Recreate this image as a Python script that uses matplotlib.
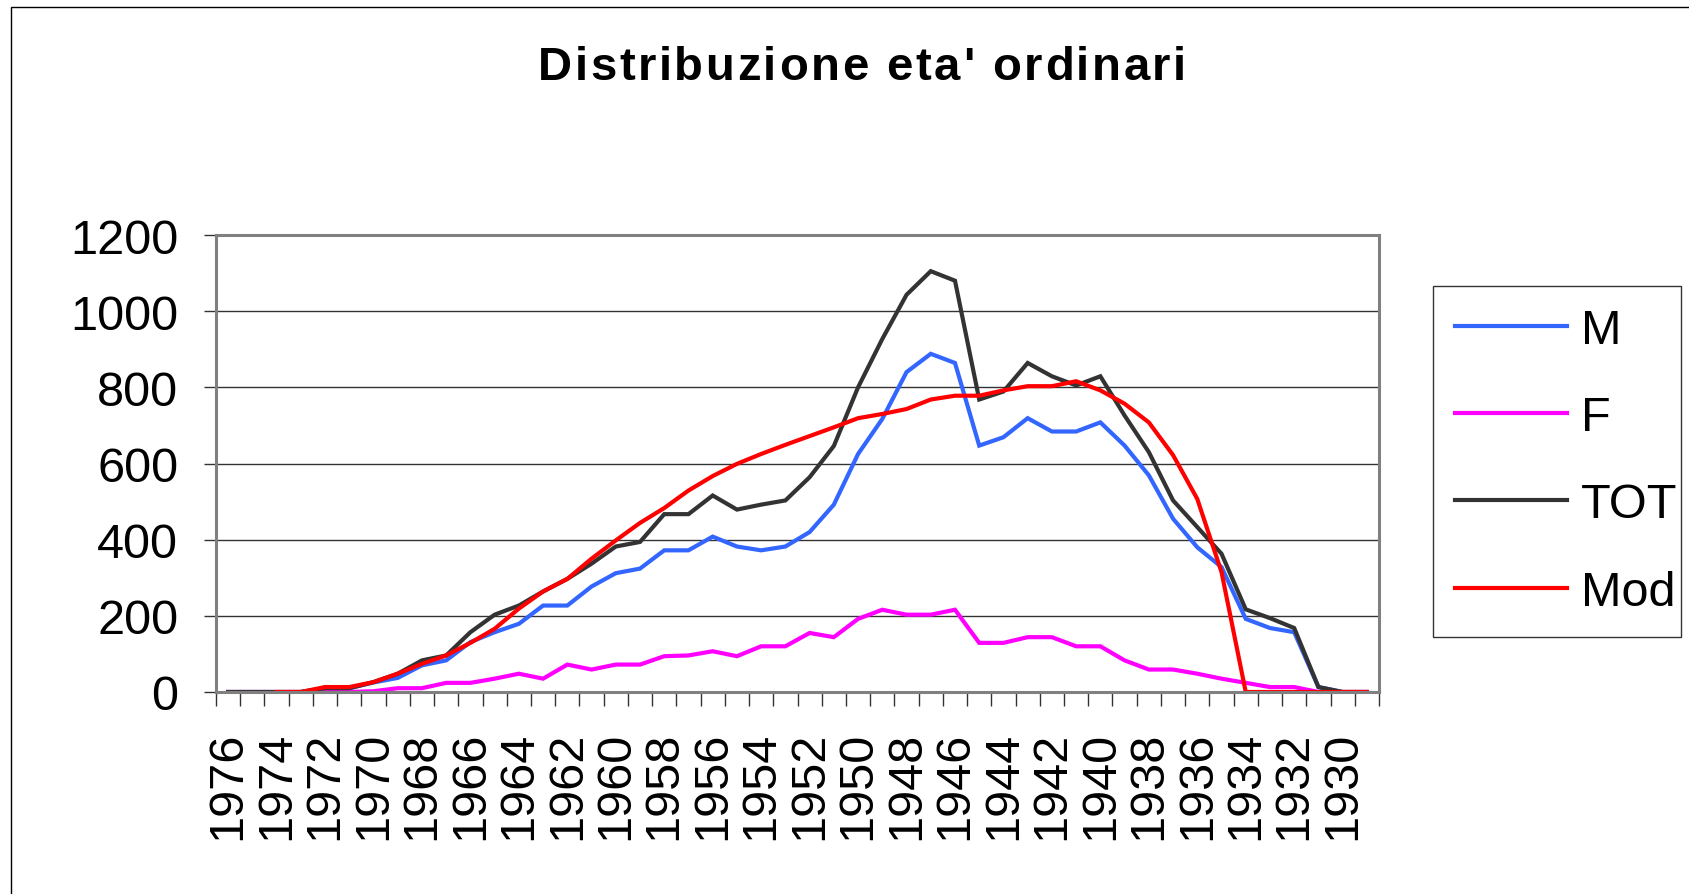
import matplotlib
matplotlib.use("Agg")
import matplotlib.pyplot as plt
from matplotlib.patches import Rectangle
from matplotlib.font_manager import FontProperties
import numpy as np

years = list(range(1976, 1928, -1))  # 48 categories, 1976 .. 1929
tick_labels = [str(y) if (1976 - y) % 2 == 0 else "" for y in years]

M = [0, 0, 0, 0, 10, 10, 25, 37, 70, 83, 131, 157, 179, 227, 227, 277, 312, 324, 372, 372,
     408, 382, 372, 382, 420, 492, 625, 717, 840, 888, 864, 647, 669, 719, 684, 684, 708, 647,
     569, 455, 380, 328, 192, 168, 157, 13, 0, 0]
F = [0, 0, 0, 0, 0, 0, 2, 10, 10, 24, 24, 35, 48, 35, 72, 59, 72, 72, 94, 96,
     107, 94, 120, 120, 155, 144, 192, 216, 203, 203, 216, 129, 129, 144, 144, 120, 120, 83,
     59, 59, 48, 35, 24, 13, 13, 0, 0, 0]
TOT = [0, 0, 0, 0, 10, 10, 26, 48, 83, 96, 157, 203, 227, 264, 297, 337, 382, 394, 467, 467,
       516, 479, 492, 503, 564, 646, 800, 927, 1043, 1105, 1080, 768, 789, 864, 829, 805, 829, 726,
       630, 503, 433, 363, 217, 194, 168, 13, 0, 0]
MOD = [None, None, 0, 0, 13, 13, 26, 48, 74, 96, 129, 166, 219, 264, 297, 350, 398, 444, 483, 529,
       567, 599, 625, 649, 672, 695, 719, 730, 743, 768, 778, 778, 792, 803, 803, 816, 792, 757,
       708, 622, 507, 315, 0, 0, 0, 0, 0, 0]

series = [("M", M, "#3366FF"), ("F", F, "#FF00FF"), ("TOT", TOT, "#333333"), ("Mod", MOD, "#FF0000")]
title = "Distribuzione eta' ordinari"

W, H = 1689, 895
plt.rcParams['font.family'] = ['Liberation Sans', 'DejaVu Sans']
fig = plt.figure(figsize=(W / 100, H / 100), dpi=100)

# outer chart border
fig.patches.append(Rectangle((11 / W, -0.1), 1.2, 1 - 7.5 / H + 0.1, transform=fig.transFigure,
                             fill=False, edgecolor="#000000", linewidth=1.0))

L, R, T, B = 216, 1379, 236, 693
ax = fig.add_axes([L / W, 1 - B / H, (R - L) / W, (B - T) / H])

x = np.arange(len(years))
for name, vals, col in series:
    v = np.array([np.nan if a is None else a for a in vals], dtype=float)
    ax.plot(x, v, color=col, linewidth=3.0, label=name, solid_joinstyle="miter")

ax.set_xlim(-0.5, len(years) - 0.5)
ax.set_ylim(0, 1200)
ax.set_yticks(range(0, 1201, 200))
ax.yaxis.grid(True, color="#333333", linewidth=1.0)
ax.set_axisbelow(True)

FS = 35
ax.set_xticks(x)
ax.set_xticklabels(tick_labels, rotation=90, fontsize=FS)
ax.tick_params(axis="x", which="major", length=0, pad=28)
ax.set_xticks(np.arange(-0.5, len(years)), minor=True)
ax.tick_params(axis="x", which="minor", length=10, width=1.0, color="#333333", direction="out")
ax.tick_params(axis="y", length=8.6, width=1.0, color="#333333", pad=18.5, labelsize=FS)

for s in ax.spines.values():
    s.set_color("#808080")
    s.set_linewidth(2.2)

ax.legend(loc="upper left", bbox_to_anchor=(1433 / W, 1 - 633 / H, (1681 - 1433) / W, (633 - 287) / H),
          bbox_transform=fig.transFigure, mode="expand", fontsize=FS, frameon=True, fancybox=False,
          edgecolor="#000000", handlelength=2.3, handletextpad=0.3, labelspacing=0.87,
          borderaxespad=0, borderpad=0.45)
leg = ax.get_legend()
leg.get_frame().set_linewidth(1.0)

# title with letter spacing, centred at x=862 px
renderer = fig.canvas.get_renderer()
prop = FontProperties(family=['Liberation Sans', 'DejaVu Sans'], weight="bold", size=34)
spacing = 2.6  # px between letters
def wid(s):
    if not s:
        return 0.0
    w, h, d = renderer.get_text_width_height_descent(s, prop, ismath=False)
    return w
total = wid(title) + spacing * (len(title) - 1)
x0 = 862 - total / 2
ybase = 1 - 80 / H
for i, ch in enumerate(title):
    xi = x0 + wid(title[:i]) + spacing * i
    fig.text(xi / W, ybase, ch, ha="left", va="baseline", fontproperties=prop)

fig.savefig("out.png", dpi=100)
